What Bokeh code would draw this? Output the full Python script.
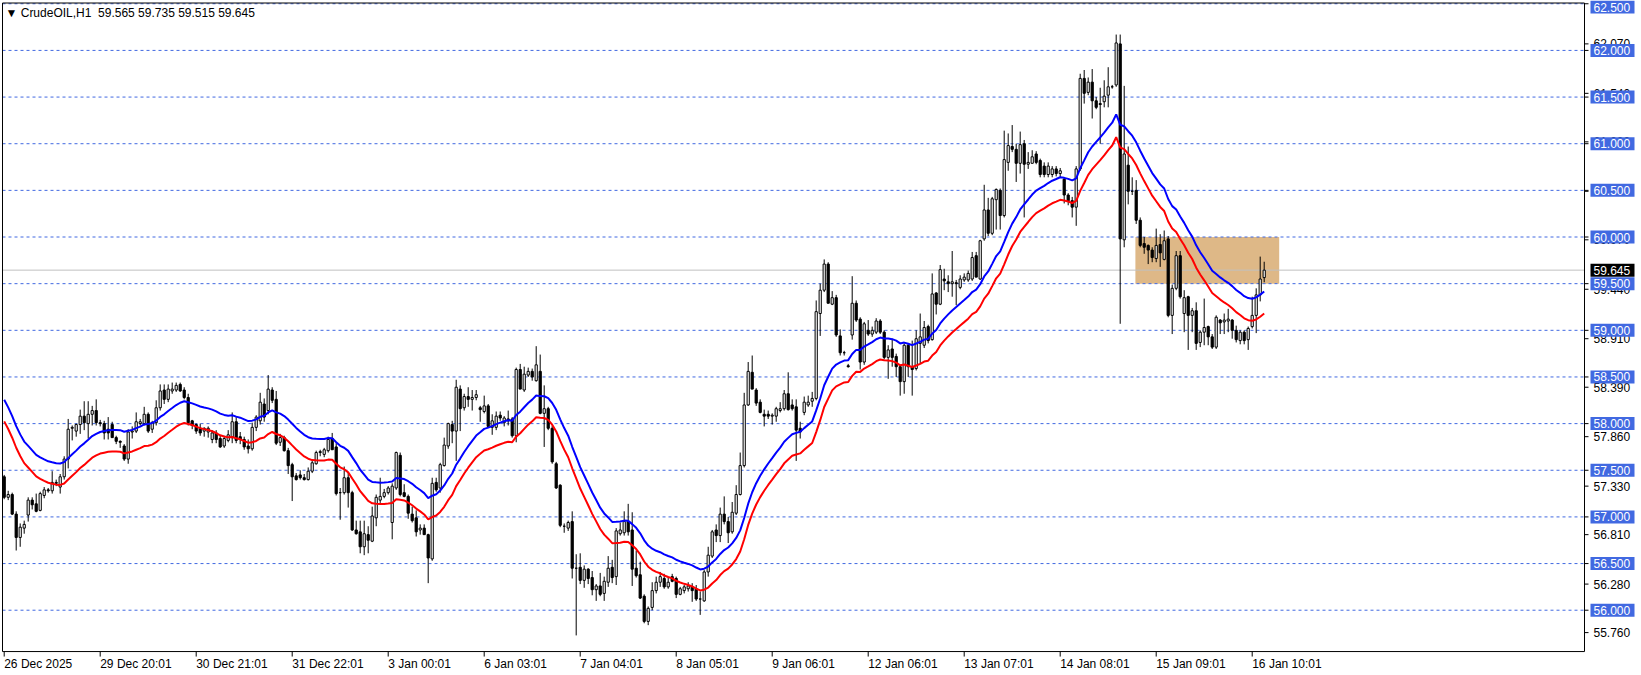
import numpy as np
from bokeh.plotting import figure
from bokeh.models import Range1d
from bokeh.core.properties import value
from bokeh.embed import file_html
from bokeh.resources import INLINE

# ---------------- data ----------------
symbol_title = "\u25BC CrudeOIL,H1\u00a0\u00a059.565 59.735 59.515 59.645"

opens = [57.43,57.21,57.24,57.03,56.78,56.88,57.02,57.18,57.14,57.07,57.23,57.29,57.28,57.37,57.32,57.43,57.62,57.95,57.92,57.99,
58.08,58.00,58.10,58.14,58.01,58.00,57.94,57.99,57.85,57.81,57.76,57.62,57.91,57.92,58.00,58.00,58.10,57.94,58.01,58.17,
58.36,58.26,58.35,58.36,58.42,58.36,58.28,58.03,57.99,57.95,57.92,57.91,57.83,57.90,57.84,57.76,57.82,57.85,58.02,57.86,
57.83,57.76,57.73,57.96,58.03,58.21,58.14,58.36,58.26,57.80,57.85,57.71,57.56,57.44,57.45,57.42,57.40,57.49,57.57,57.69,
57.67,57.71,57.84,57.75,57.26,57.26,57.42,57.26,56.86,56.84,56.68,56.81,56.74,56.99,57.18,57.22,57.26,56.94,57.31,57.66,
57.26,57.22,57.03,56.99,56.86,56.88,56.81,56.55,57.37,57.31,57.55,57.76,57.99,57.92,58.37,58.17,58.29,58.26,58.28,58.17,
58.13,58.19,57.96,57.96,58.09,58.01,58.05,58.05,57.87,58.58,58.36,58.52,58.56,58.46,58.56,58.11,58.16,57.95,57.57,57.34,
56.90,56.88,56.95,56.45,56.46,56.32,56.44,56.35,56.22,56.26,56.18,56.30,56.46,56.36,56.82,56.83,56.95,56.86,56.45,56.38,
56.15,55.88,56.03,56.21,56.30,56.34,56.25,56.36,56.34,56.17,56.21,56.23,56.25,56.23,56.12,56.10,56.41,56.58,56.86,56.80,
57.03,56.95,56.84,57.04,57.24,57.55,58.20,58.55,58.36,58.23,58.10,58.10,58.08,58.08,58.14,58.16,58.32,58.20,58.18,57.95,
58.12,58.20,58.24,58.27,59.18,59.43,59.71,59.28,59.35,58.94,58.76,58.62,58.95,59.29,59.12,58.66,59.00,58.96,58.98,59.10,
58.98,58.71,58.80,58.72,58.61,58.45,58.84,58.61,58.59,58.86,58.84,59.04,58.90,59.40,59.28,59.55,59.52,59.50,59.51,59.46,
59.54,59.54,59.55,59.80,59.55,59.98,60.29,60.04,60.40,60.50,60.23,60.80,60.97,60.94,60.79,61.00,60.78,60.79,60.89,60.82,
60.76,60.67,60.67,60.73,60.68,60.62,60.45,60.39,60.32,60.73,61.70,61.55,61.66,61.46,61.43,61.45,61.52,61.61,61.63,62.07,
59.97,60.77,60.49,60.50,60.18,59.93,59.91,59.86,59.77,59.92,59.76,59.98,59.16,59.45,59.80,59.18,59.36,59.16,59.21,58.87,
58.98,59.04,58.93,58.82,59.11,59.09,59.10,59.11,59.00,58.89,58.98,58.90,59.04,59.16,59.38,59.565]

highs = [57.45,57.28,57.26,57.06,56.93,56.96,57.21,57.21,57.25,57.27,57.32,57.31,57.49,57.40,57.46,57.65,58.05,57.98,58.00,58.15,
58.24,58.24,58.19,58.26,58.04,58.03,58.07,58.02,57.87,57.82,57.78,57.94,57.97,58.12,58.05,58.18,58.12,58.03,58.25,58.42,
58.42,58.42,58.44,58.44,58.44,58.39,58.32,58.04,58.00,58.00,57.96,57.97,57.93,57.93,57.87,57.87,57.93,58.12,58.08,57.91,
57.86,57.83,58.01,58.09,58.33,58.27,58.52,58.39,58.35,57.89,57.87,57.74,57.58,57.47,57.50,57.46,57.53,57.62,57.71,57.72,
57.74,57.86,57.90,57.79,57.31,57.54,57.47,57.28,56.96,56.96,56.96,56.90,57.11,57.24,57.42,57.30,57.33,57.36,57.70,57.69,
57.35,57.24,57.11,57.07,56.92,56.92,56.82,57.42,57.42,57.58,57.85,58.01,58.03,58.47,58.41,58.32,58.39,58.36,58.36,58.19,
58.30,58.21,58.10,58.13,58.13,58.08,58.14,58.07,58.60,58.64,58.61,58.60,58.59,58.83,58.74,58.41,58.18,57.98,57.59,57.35,
56.93,56.96,57.06,56.60,56.61,56.48,56.45,56.42,56.28,56.40,56.36,56.58,56.54,56.88,56.94,57.06,57.14,57.05,56.64,56.52,
56.17,56.04,56.30,56.36,56.41,56.39,56.35,56.39,56.36,56.25,56.27,56.30,56.29,56.27,56.20,56.43,56.68,56.86,56.92,57.10,
57.22,57.00,57.16,57.34,57.69,58.33,58.66,58.73,58.38,58.26,58.15,58.14,58.11,58.18,58.23,58.36,58.55,58.26,58.26,58.02,
58.29,58.30,58.34,59.32,59.50,59.76,59.73,59.42,59.38,59.01,58.78,58.64,59.58,59.32,59.14,59.09,59.11,59.04,59.13,59.12,
59.00,58.84,58.91,58.75,58.63,58.86,58.86,58.89,59.00,59.18,59.10,59.06,59.61,59.41,59.70,59.66,59.59,59.85,59.54,59.59,
59.61,59.64,59.84,59.84,59.97,60.56,60.42,60.43,60.52,60.52,61.14,61.11,61.20,61.00,61.13,61.04,60.91,60.93,60.92,60.84,
60.80,60.80,60.76,60.76,60.74,60.64,60.47,60.43,60.76,61.75,61.79,61.71,61.80,61.50,61.60,61.68,61.82,61.63,62.17,62.17,
61.62,60.97,60.64,60.61,60.21,60.00,59.92,59.89,60.09,60.03,60.07,60.01,59.49,59.85,59.85,59.43,59.37,59.24,59.30,59.00,
59.34,59.05,58.96,59.16,59.12,59.18,59.23,59.12,59.05,59.00,59.00,59.04,59.36,59.45,59.79,59.735]

lows = [57.19,57.18,57.02,56.64,56.68,56.82,56.95,57.08,57.05,57.06,57.20,57.26,57.25,57.33,57.25,57.40,57.52,57.82,57.86,57.89,
57.93,57.84,57.98,57.98,57.97,57.83,57.83,57.85,57.78,57.74,57.60,57.57,57.84,57.90,57.98,57.98,57.90,57.90,57.98,58.14,
58.21,58.23,58.32,58.34,58.34,58.26,57.98,57.94,57.89,57.87,57.86,57.85,57.79,57.79,57.74,57.74,57.80,57.79,57.79,57.78,
57.72,57.68,57.71,57.92,57.99,58.02,58.10,58.22,57.77,57.76,57.70,57.46,57.17,57.39,57.40,57.39,57.39,57.47,57.56,57.65,
57.64,57.69,57.72,57.23,56.97,57.24,57.10,56.85,56.81,56.61,56.59,56.61,56.73,56.90,57.15,57.20,57.24,56.76,57.29,57.22,
57.21,56.98,56.94,56.79,56.81,56.81,56.29,56.53,57.27,57.26,57.54,57.73,57.79,57.60,57.92,58.14,58.18,58.14,58.25,58.02,
58.11,57.96,57.88,57.93,58.03,57.97,57.98,57.85,57.80,58.37,58.34,58.50,58.46,58.45,58.10,57.75,57.93,57.57,57.30,56.89,
56.83,56.85,56.34,55.73,56.28,56.24,56.28,56.16,56.10,56.15,56.10,56.25,56.29,56.27,56.80,56.80,56.80,56.26,56.35,56.12,
55.86,55.84,56.00,56.18,56.25,56.23,56.23,56.30,56.13,56.16,56.18,56.20,56.09,56.10,55.95,56.09,56.36,56.56,56.73,56.73,
56.92,56.72,56.82,57.02,57.23,57.53,58.19,58.37,58.19,58.11,57.97,58.05,57.99,58.02,58.12,58.14,58.14,58.14,57.60,57.84,
58.09,58.18,58.18,58.25,58.94,59.41,59.29,59.27,58.93,58.73,58.73,58.60,58.90,59.09,58.58,58.63,58.94,58.93,58.96,58.96,
58.69,58.48,58.61,58.50,58.30,58.32,58.50,58.30,58.57,58.64,58.81,58.86,58.89,59.17,59.27,59.43,59.41,59.36,59.27,59.44,
59.52,59.52,59.53,59.57,59.54,59.96,60.01,60.02,60.08,60.08,60.21,60.71,60.91,60.59,60.68,60.21,60.73,60.79,60.78,60.64,
60.64,60.64,60.64,60.65,60.64,60.36,60.34,60.21,60.12,60.71,61.43,61.52,61.27,61.37,61.00,61.39,61.39,61.59,61.61,59.07,
59.89,60.35,60.45,60.14,59.89,59.82,59.71,59.73,59.73,59.68,59.75,59.14,58.96,59.43,59.34,58.98,58.79,58.98,58.79,58.82,
58.84,58.84,58.80,58.80,58.96,58.96,58.98,58.91,58.87,58.85,58.85,58.79,59.02,58.97,59.31,59.515]

closes = [57.21,57.24,57.03,56.78,56.89,56.92,57.18,57.13,57.06,57.25,57.29,57.28,57.37,57.36,57.43,57.62,57.94,57.96,57.99,58.08,
58.01,58.10,58.14,58.01,58.00,57.90,57.90,57.85,57.81,57.80,57.62,57.91,57.92,58.02,58.02,58.10,57.92,58.01,58.17,58.35,
58.26,58.37,58.37,58.41,58.35,58.28,58.01,57.98,57.92,57.90,57.95,57.95,57.90,57.83,57.75,57.84,57.88,58.02,57.82,57.83,
57.75,57.73,57.96,58.07,58.23,58.07,58.37,58.25,57.79,57.85,57.71,57.55,57.43,57.40,57.42,57.40,57.49,57.58,57.69,57.70,
57.72,57.83,57.72,57.25,57.26,57.42,57.26,56.86,56.82,56.68,56.82,56.75,57.01,57.21,57.22,57.26,57.31,57.33,57.69,57.24,
57.22,57.04,56.96,56.84,56.88,56.81,56.56,57.36,57.29,57.56,57.77,58.00,57.92,58.39,58.16,58.29,58.26,58.28,58.31,58.15,
58.19,57.97,58.03,58.08,58.06,58.06,58.03,57.87,58.58,58.37,58.53,58.56,58.50,58.63,58.11,58.16,57.95,57.59,57.31,56.91,
56.90,56.94,56.45,56.45,56.32,56.44,56.34,56.22,56.26,56.17,56.31,56.45,56.35,56.85,56.86,56.95,56.84,56.44,56.37,56.13,
55.88,56.02,56.21,56.30,56.36,56.25,56.30,56.31,56.17,56.23,56.25,56.26,56.21,56.12,56.12,56.41,56.59,56.84,56.80,57.03,
56.95,56.83,57.05,57.24,57.55,58.20,58.56,58.37,58.22,58.12,58.08,58.08,58.09,58.16,58.16,58.32,58.15,58.16,57.93,57.91,
58.23,58.23,58.27,59.20,59.43,59.71,59.29,59.35,58.95,58.76,58.76,58.61,59.29,59.11,58.66,59.07,58.96,59.00,59.10,58.98,
58.71,58.79,58.71,58.61,58.45,58.84,58.61,58.58,58.91,58.93,59.03,58.89,59.39,59.28,59.65,59.53,59.50,59.52,59.50,59.55,
59.57,59.61,59.78,59.57,59.96,60.29,60.04,60.41,60.51,60.23,60.83,60.98,60.94,60.79,60.99,60.78,60.80,60.86,60.80,60.67,
60.67,60.76,60.73,60.68,60.71,60.45,60.39,60.32,60.73,61.70,61.54,61.66,61.46,61.39,61.42,61.51,61.61,61.61,62.08,59.98,
60.89,60.49,60.49,60.18,59.91,59.89,59.86,59.78,59.91,59.83,59.96,59.16,59.45,59.80,59.36,59.35,59.16,59.21,58.86,58.98,
59.03,58.93,58.82,59.14,59.08,59.11,59.12,59.00,58.90,58.98,58.89,59.02,59.16,59.38,59.55,59.645]

# Envelopes indicator: EMA of close, deviation in percent; EMA value at the first visible bar
env_period = 21
env_deviation_pct = 0.2
env_ma_start = 58.14

# time-scale labels (every 24 bars)
x_tick_bars = [0, 24, 48, 72, 96, 120, 144, 168, 192, 216, 240, 264, 288, 312]
x_tick_labels = ["26 Dec 2025", "29 Dec 20:01", "30 Dec 21:01", "31 Dec 22:01", "3 Jan 00:01",
                 "6 Jan 03:01", "7 Jan 04:01", "8 Jan 05:01", "9 Jan 06:01", "12 Jan 06:01",
                 "13 Jan 07:01", "14 Jan 08:01", "15 Jan 09:01", "16 Jan 10:01"]

# price-scale ticks and horizontal levels
price_ticks = [55.760, 56.280, 56.810, 57.330, 57.860, 58.390, 58.910, 59.440, 59.970,
               60.490, 61.020, 61.540, 62.070]
hline_levels = [56.0, 56.5, 57.0, 57.5, 58.0, 58.5, 59.0, 59.5, 60.0, 60.5, 61.0, 61.5, 62.0, 62.5]
bid_price = 59.645

# zone rectangle (bars / prices)
zone_left, zone_right = 282.8, 318.75
zone_bottom, zone_top = 59.5, 60.0

# ---------------- layout (pixels) ----------------
W, H = 1641, 675
PX_PER_BAR = 4.0
BAR0_PX = 3.7            # x pixel of bar 0 centre inside the canvas
PRICE_TOP = 62.535       # price at canvas top
PX_PER_UNIT = 93.3
PRICE_BOTTOM_LINE = 55.557
AXIS_PX = 1584           # price-scale line
LEFT_PX = 2.0
TOP_PX = 2.5

def bx(px):
    return (px - BAR0_PX) / PX_PER_BAR

def py(pix):
    return PRICE_TOP - pix / PX_PER_UNIT

x0, x1 = bx(0), bx(W)
y1, y0 = PRICE_TOP, py(H)
left_x = bx(LEFT_PX)
axis_x = bx(AXIS_PX)
top_y = py(TOP_PX)

# ---------------- derived ----------------
n = len(closes)
idx = np.arange(n)
o = np.array(opens); h = np.array(highs); l = np.array(lows); c = np.array(closes)
alpha = 2.0 / (env_period + 1)
ma = np.zeros(n)
ma[0] = env_ma_start
for i in range(1, n):
    ma[i] = alpha * c[i] + (1 - alpha) * ma[i - 1]
upper = ma * (1 + env_deviation_pct / 100)
lower = ma * (1 - env_deviation_pct / 100)

FONT = "Liberation Sans"
BLUE = "#4169E1"

p = figure(width=W, height=H, output_backend="svg", toolbar_location=None,
           x_range=Range1d(x0, x1), y_range=Range1d(y0, y1),
           x_axis_location=None, y_axis_location=None,
           min_border=0, min_border_left=0, min_border_right=0, min_border_top=0, min_border_bottom=0)
p.background_fill_color = "white"
p.border_fill_color = "white"
p.outline_line_color = None
p.grid.visible = False

# zone
p.quad(left=[zone_left], right=[zone_right], bottom=[zone_bottom], top=[zone_top],
       fill_color="#DEB887", line_color=None)

# dashed levels and bid line
nl = len(hline_levels)
p.segment(x0=[left_x] * nl, y0=hline_levels, x1=[axis_x] * nl, y1=hline_levels,
          line_color=BLUE, line_width=1, line_dash="3 3")
p.segment(x0=[left_x], y0=[bid_price], x1=[axis_x], y1=[bid_price], line_color="#C0C0C0", line_width=1)

# candles
p.segment(x0=idx, y0=l, x1=idx, y1=h, line_color="black", line_width=1)
up = c >= o
top = np.maximum(o, c); bot = np.minimum(o, c)
p.vbar(x=idx[up], top=top[up], bottom=bot[up], width=0.55, fill_color="white", line_color="black", line_width=1)
p.vbar(x=idx[~up], top=top[~up], bottom=bot[~up], width=0.55, fill_color="black", line_color="black", line_width=1)

# envelopes
p.line(idx, upper, line_color="#0000FF", line_width=2)
p.line(idx, lower, line_color="#FF0000", line_width=2)

# frame lines
p.segment(x0=[left_x, left_x, axis_x, left_x], y0=[PRICE_BOTTOM_LINE, top_y, PRICE_BOTTOM_LINE, PRICE_BOTTOM_LINE],
          x1=[left_x, axis_x, axis_x, axis_x], y1=[top_y, top_y, top_y, PRICE_BOTTOM_LINE],
          line_color="black", line_width=1)

# time scale
tick_len = 5 / PX_PER_UNIT
nt = len(x_tick_bars)
p.segment(x0=x_tick_bars, y0=[PRICE_BOTTOM_LINE] * nt, x1=x_tick_bars, y1=[PRICE_BOTTOM_LINE - tick_len] * nt,
          line_color="black", line_width=1)
label_y = PRICE_BOTTOM_LINE - 12 / PX_PER_UNIT
p.text(x=x_tick_bars, y=[label_y] * nt, text=x_tick_labels, text_align="left", text_baseline="middle",
       text_font=value(FONT), text_font_size="12px", text_color="black")

# price scale
all_ticks = price_ticks + hline_levels
na = len(all_ticks)
p.segment(x0=[axis_x] * na, y0=all_ticks, x1=[axis_x + 1.0] * na, y1=all_ticks, line_color="black", line_width=1)
p.text(x=[axis_x] * len(price_ticks), y=price_ticks, text=[f"{v:.3f}" for v in price_ticks],
       x_offset=9, text_align="left", text_baseline="middle",
       text_font=value(FONT), text_font_size="12px", text_color="black")

# level tags (a tag at the very top is held inside the window)
tag_y = [min(v, py(6.5)) for v in hline_levels]
box_cx = bx(AXIS_PX + 6 + 22)
p.rect(x=[box_cx] * nl, y=tag_y, width=44, height=13, width_units="screen", height_units="screen",
       fill_color=BLUE, line_color=None)
p.text(x=[axis_x] * nl, y=tag_y, text=[f"{v:.3f}" for v in hline_levels],
       x_offset=9, text_align="left", text_baseline="middle",
       text_font=value(FONT), text_font_size="12px", text_color="white")
p.rect(x=[box_cx], y=[bid_price], width=44, height=13, width_units="screen", height_units="screen",
       fill_color="black", line_color=None)
p.text(x=[axis_x], y=[bid_price], text=[f"{bid_price:.3f}"],
       x_offset=9, text_align="left", text_baseline="middle",
       text_font=value(FONT), text_font_size="12px", text_color="white")

# title
p.text(x=[bx(5)], y=[py(12)], text=[symbol_title], text_align="left", text_baseline="middle",
       text_font=value(FONT), text_font_size="12px", text_color="black")

open("out.html", "w").write(file_html(p, INLINE))
